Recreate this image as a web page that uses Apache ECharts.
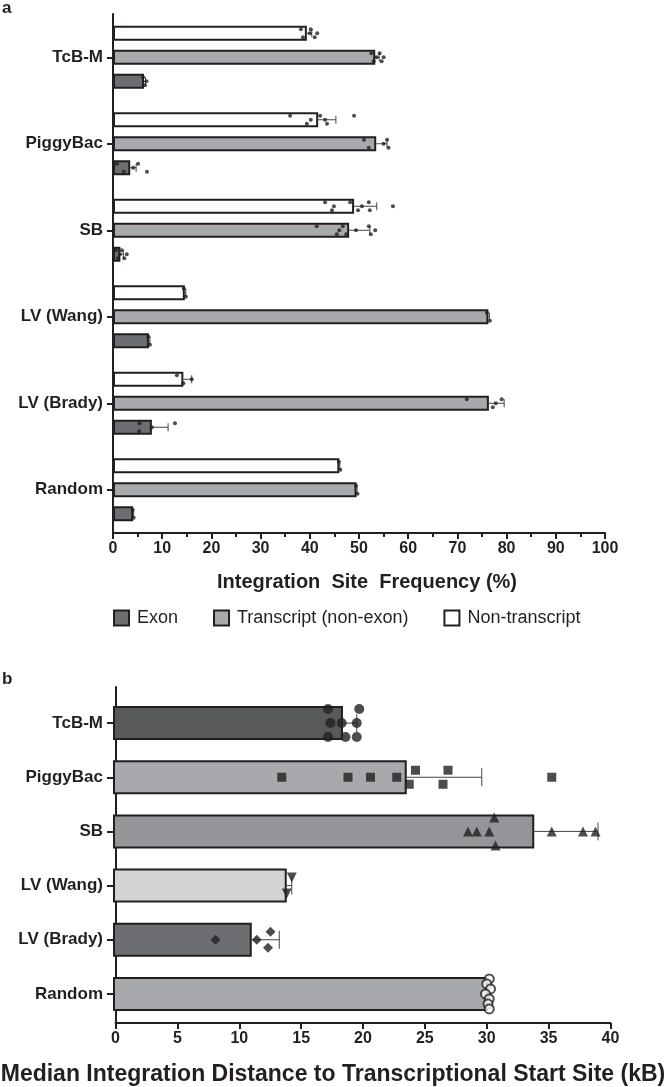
<!DOCTYPE html>
<html><head><meta charset="utf-8">
<script src="https://cdn.jsdelivr.net/npm/echarts@6/dist/echarts.min.js"></script>
<style>html,body{margin:0;padding:0;background:#fff}#c{width:666px;height:1087px}</style>
</head><body><div id="c"></div>
<script>
// ---------- data ----------
const categories = ['TcB-M', 'PiggyBac', 'SB', 'LV (Wang)', 'LV (Brady)', 'Random'];

// Panel a: integration site frequency (%)
const groupNames = ['Exon', 'Transcript (non-exon)', 'Non-transcript'];
const exonMean = [6.3, 3.5, 1.5, 7.3, 7.9, 4.1];
const exonErr = [0.3, 1.2, 0.6, 0.2, 3.3, 0.1];
const exonPts = [[6.1, 6.5, 6.8], [0.8, 2.2, 4.1, 5.1, 6.9], [0.6, 1.0, 1.4, 1.8, 2.3, 2.8], [7.2, 7.5], [5.4, 5.3, 7.9, 12.6], [4.0, 4.2]];
const transMean = [53.3, 53.5, 48.0, 76.3, 76.4, 49.5];
const transErr = [0.8, 2.2, 4.2, 0.2, 3.1, 0.1];
const transPts = [[52.5, 53.0, 53.6, 54.2, 54.6, 55.0], [51.0, 52.0, 55.0, 55.7, 56.0], [41.4, 45.5, 46.0, 46.7, 47.4, 49.4, 52.0, 52.4, 53.3], [76.0, 76.6], [71.9, 77.2, 77.8, 79.0], [49.4, 49.7]];
const nonMean = [39.4, 41.7, 49.0, 14.6, 14.3, 46.0];
const nonErr = [1.0, 3.6, 4.6, 0.2, 1.7, 0.1];
const nonPts = [[38.2, 38.6, 40.0, 40.2, 41.0, 41.5], [36.0, 39.4, 40.2, 42.1, 43.5, 43.1, 49.0], [43.1, 44.5, 44.9, 48.2, 49.8, 50.6, 52.0, 52.2, 56.9], [14.4, 14.8], [13.0, 14.3, 16.0], [45.9, 46.2]];
const xTicksA = [0, 10, 20, 30, 40, 50, 60, 70, 80, 90, 100];

// Panel b: median integration distance to TSS (kB)
const distMean = [18.4, 23.5, 33.7, 13.9, 11.1, 30.0];
const distErr = [1.1, 6.0, 5.1, 0.4, 2.2, 0.1];
const distPts = [
  [17.2, 17.4, 18.3, 19.7, 19.5, 17.2, 18.6, 19.5],
  [13.5, 18.8, 20.6, 22.7, 23.7, 24.2, 26.4, 26.8, 35.1],
  [28.4, 29.1, 30.1, 30.5, 30.6, 35.1, 37.6, 38.6],
  [14.3, 13.9],
  [8.2, 11.5, 12.6, 12.4],
  [30.1, 29.9, 30.2, 29.8, 30.1, 30.0, 30.1]
];
// swarm slots (vertical lane of each point)
const distLanes = [
  [-1, 0, 0, -1, 0, 1, 1, 1],
  [0, 0, 0, 0, 1, -1, 1, -1, 0],
  [0, 0, 0, -1, 1, 0, 0, 0],
  [-1, 1],
  [0, 0, -1, 1],
  [-3, -2, -1, 0, 1, 2, 3]
];
const xTicksB = [0, 5, 10, 15, 20, 25, 30, 35, 40];

// ---------- style ----------
const INK = '#231f20';
const FONT = '"Liberation Sans", Arial, sans-serif';
const groupColors = ['#6d6e71', '#a7a9ac', '#ffffff'];
const groupOffsets = [24, 0, -24];       // px: Exon bottom, Transcript middle, Non-transcript top
const barColorsB = ['#58595b', '#a7a9ac', '#939598', '#d1d3d4', '#6d6e71', '#a7a9ac'];
const laneStepB = [14, 7, 14, 8, 8, 5];
const symbolsB = ['circle', 'rect', 'triangle', 'triangle', 'diamond', 'emptyCircle'];
const symbolSizeB = [10, 9, 10, 10, 10, 9];
const symbolRotB = [0, 0, 0, 180, 0, 0];

const chart = echarts.init(document.getElementById('c'), null, {renderer: 'canvas'});

const meansA = [exonMean, transMean, nonMean];
const errsA = [exonErr, transErr, nonErr];
const ptsA = [exonPts, transPts, nonPts];
const laneCycle = [-1, 1, 0];

function errRender(offsetFn, cap) {
  return function (params, api) {
    const v = api.value(0), c = api.value(1), e = api.value(2);
    const p0 = api.coord([v, c]);
    const p1 = api.coord([v + e, c]);
    const y = p0[1] + offsetFn(params);
    return {
      type: 'group', children: [
        {type: 'line', shape: {x1: p0[0], y1: y, x2: p1[0], y2: y}, style: {stroke: '#444', lineWidth: 1}},
        {type: 'line', shape: {x1: p1[0], y1: y - cap, x2: p1[0], y2: y + cap}, style: {stroke: '#444', lineWidth: 1}}
      ]
    };
  };
}

const series = [];
// Panel a bars (series order top→bottom inside each band: Non-transcript, Transcript, Exon)
[2, 1, 0].forEach((g) => {
  series.push({
    name: groupNames[g], type: 'bar', xAxisIndex: 0, yAxisIndex: 0,
    data: meansA[g], barWidth: 15, barGap: '60%',
    itemStyle: {color: groupColors[g], borderColor: INK, borderWidth: 2},
    z: 2, animation: false
  });
});
// Panel a error bars
groupNames.forEach((name, g) => {
  series.push({
    type: 'custom', xAxisIndex: 0, yAxisIndex: 0, z: 3, silent: true, animation: false,
    renderItem: errRender(() => groupOffsets[g], 4),
    data: meansA[g].map((m, i) => [m, i, errsA[g][i]])
  });
});
// Panel a dots
groupNames.forEach((name, g) => {
  const data = [];
  ptsA[g].forEach((arr, i) => arr.forEach((v, k) => {
    data.push({value: [v, i], symbolOffset: [0, groupOffsets[g] + laneCycle[k % 3] * 4]});
  }));
  series.push({
    type: 'scatter', xAxisIndex: 0, yAxisIndex: 0, z: 4, silent: true, animation: false,
    symbol: 'circle', symbolSize: 4, itemStyle: {color: INK}, data: data
  });
});
// Panel b bars
series.push({
  type: 'bar', xAxisIndex: 1, yAxisIndex: 1, barWidth: 34, animation: false, z: 2,
  data: distMean.map((m, i) => ({value: m, itemStyle: {color: barColorsB[i]}})),
  itemStyle: {borderColor: INK, borderWidth: 2}
});
series.push({
  type: 'custom', xAxisIndex: 1, yAxisIndex: 1, z: 3, silent: true, animation: false,
  renderItem: errRender(() => 0, 9),
  data: distMean.map((m, i) => [m, i, distErr[i]])
});
categories.forEach((c, i) => {
  series.push({
    type: 'scatter', xAxisIndex: 1, yAxisIndex: 1, z: 4, silent: true, animation: false,
    symbol: symbolsB[i], symbolSize: symbolSizeB[i], symbolRotate: symbolRotB[i],
    itemStyle: symbolsB[i] === 'emptyCircle' ? {color: INK, borderColor: INK, borderWidth: 1.2} : {color: INK},
    data: distPts[i].map((v, k) => ({value: [v, i], symbolOffset: [0, distLanes[i][k] * laneStepB[i]]}))
  });
});

const catLabel = {color: INK, fontFamily: FONT, fontWeight: 'bold', fontSize: 17, margin: 10};
const tickLabel = {color: INK, fontFamily: FONT, fontWeight: 'bold', fontSize: 16, margin: 8,
  alignMinLabel: 'center', alignMaxLabel: 'center'};

const option = {
  backgroundColor: '#fff',
  animation: false,
  textStyle: {fontFamily: FONT},
  graphic: [
    {type: 'text', left: 2, top: 0, style: {text: 'a', font: 'bold 17px ' + FONT, fill: INK}},
    {type: 'text', left: 2, top: 671, style: {text: 'b', font: 'bold 17px ' + FONT, fill: INK}}
  ],
  legend: {
    data: groupNames, left: 113, top: 609, padding: 0, itemWidth: 15, itemHeight: 15, itemGap: 35,
    icon: 'rect', selectedMode: false,
    textStyle: {color: INK, fontFamily: FONT, fontSize: 18, padding: [0, 0, 0, 3]}
  },
  grid: [
    {left: 113, right: 61, top: 14, bottom: 554, containLabel: false},
    {left: 113, right: 53, top: 696, bottom: 66, containLabel: false},
    {left: 113, right: 53, top: 687, bottom: 59, containLabel: false}
  ],
  xAxis: [
    {
      type: 'value', gridIndex: 0, min: xTicksA[0], max: xTicksA[xTicksA.length - 1], interval: 10,
      axisLine: {show: true, lineStyle: {color: INK, width: 2}},
      axisTick: {show: true, length: 6, lineStyle: {color: INK, width: 2}},
      minorTick: {show: true, splitNumber: 2, length: 4, lineStyle: {color: INK, width: 2}},
      splitLine: {show: false},
      axisLabel: tickLabel,
      name: 'Integration  Site  Frequency (%)', nameLocation: 'middle', nameGap: 39,
      nameTextStyle: {color: INK, fontFamily: FONT, fontWeight: 'bold', fontSize: 20, padding: [0, 0, 0, 16]}
    },
    {type: 'value', gridIndex: 1, min: 0, max: 40, show: false},
    {
      type: 'value', gridIndex: 2, min: xTicksB[0], max: xTicksB[xTicksB.length - 1], interval: 5,
      axisLine: {show: true, lineStyle: {color: INK, width: 2}},
      axisTick: {show: true, length: 6, lineStyle: {color: INK, width: 2}},
      splitLine: {show: false},
      axisLabel: tickLabel,
      name: 'Median Integration Distance to Transcriptional Start Site (kB)', nameLocation: 'middle', nameGap: 40,
      nameTextStyle: {color: INK, fontFamily: FONT, fontWeight: 'bold', fontSize: 23, padding: [0, 60, 0, 0]}
    }
  ],
  yAxis: [
    {
      type: 'category', gridIndex: 0, data: categories, inverse: true,
      axisLine: {show: true, lineStyle: {color: INK, width: 2}},
      axisTick: {show: true, alignWithLabel: true, length: 6, lineStyle: {color: INK, width: 2}},
      axisLabel: catLabel, splitLine: {show: false}
    },
    {
      type: 'category', gridIndex: 1, data: categories, inverse: true,
      axisLine: {show: false},
      axisTick: {show: true, alignWithLabel: true, length: 6, lineStyle: {color: INK, width: 2}},
      axisLabel: catLabel, splitLine: {show: false}
    },
    {
      type: 'value', gridIndex: 2, min: 0, max: 1,
      axisLine: {show: true, lineStyle: {color: INK, width: 2}},
      axisTick: {show: false}, axisLabel: {show: false}, splitLine: {show: false}
    }
  ],
  series: series
};
chart.setOption(option);
</script>
</body></html>
